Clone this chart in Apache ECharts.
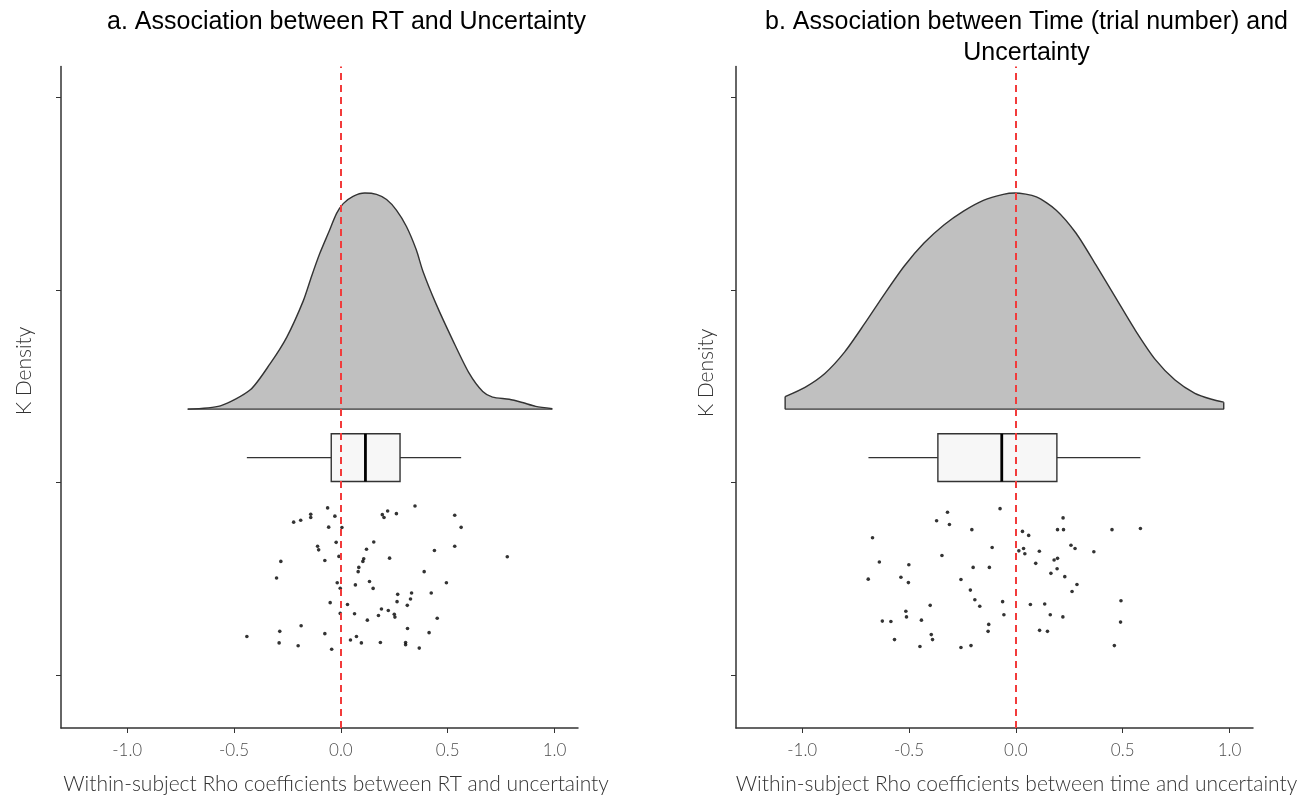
<!DOCTYPE html>
<html><head><meta charset="utf-8">
<script src="https://cdn.jsdelivr.net/npm/echarts@6/dist/echarts.min.js"></script>
<style>html,body{margin:0;padding:0;background:#fff}#c{width:1309px;height:800px}</style>
</head><body><div id="c"></div><script>
// ---------- data ----------
const panelTitles = ['a. Association between RT and Uncertainty', 'b. Association between Time (trial number) and\nUncertainty'];
const xAxisNames = ['Within-subject Rho coefficients between RT and uncertainty', 'Within-subject Rho coefficients between time and uncertainty'];
const yAxisName = 'K Density';
const xTickValues = [-1.0, -0.5, 0.0, 0.5, 1.0];
const yTickValues = [0, 1, 2, 3];

// kernel density (x, height above the violin baseline)
const rtDensX = [-0.717,-0.564,-0.424,-0.331,-0.253,-0.176,-0.137,-0.098,-0.059,-0.020,0.011,0.057,0.112,0.167,0.214,0.260,0.307,0.353,0.384,0.446,0.524,0.601,0.664,0.710,0.788,0.850,0.912,0.990];
const rtDensH = [0,0.017,0.100,0.236,0.374,0.562,0.690,0.810,0.913,1.016,1.067,1.105,1.122,1.115,1.088,1.033,0.948,0.827,0.716,0.545,0.357,0.185,0.091,0.062,0.051,0.034,0.014,0.002];
const timeDensX = [-1.080,-0.987,-0.894,-0.801,-0.709,-0.616,-0.523,-0.430,-0.337,-0.245,-0.152,-0.059,-0.005,0.096,0.189,0.282,0.374,0.467,0.560,0.653,0.745,0.838,0.916,0.973];
const timeDensH = [0.065,0.113,0.185,0.297,0.442,0.596,0.742,0.862,0.956,1.028,1.084,1.115,1.122,1.102,1.033,0.913,0.750,0.579,0.408,0.257,0.151,0.082,0.051,0.036];

// boxplot [lower whisker, Q1, median, Q3, upper whisker]
const rtBox = [-0.44, -0.045, 0.115, 0.277, 0.563];
const timeBox = [-0.69, -0.365, -0.066, 0.192, 0.583];

// individual rho values and their jitter
const rtRho = [-0.062,-0.141,-0.141,-0.188,-0.221,-0.028,-0.057,0.005,0.194,0.202,0.219,0.260,0.347,0.533,0.563,
  -0.109,-0.104,-0.022,0.154,0.120,0.438,0.533,-0.281,-0.075,-0.009,0.107,0.103,0.228,0.084,0.081,-0.301,0.390,
  -0.017,0.068,0.134,0.151,-0.003,0.494,0.266,0.331,0.423,0.263,0.326,0.311,-0.050,0.031,0.190,0.222,0.250,0.253,
  0.176,0.064,-0.003,0.124,0.451,0.312,0.413,-0.186,-0.286,-0.440,-0.075,0.073,0.045,0.096,0.185,0.303,0.303,
  -0.289,-0.200,-0.043,0.367,0.779];
const rtJitter = [0.868,0.835,0.818,0.804,0.794,0.825,0.768,0.766,0.833,0.818,0.852,0.838,0.878,0.830,0.767,
  0.669,0.650,0.689,0.691,0.653,0.647,0.669,0.590,0.595,0.616,0.604,0.590,0.607,0.559,0.537,0.504,0.537,
  0.479,0.468,0.486,0.450,0.451,0.479,0.419,0.426,0.426,0.381,0.395,0.362,0.376,0.366,0.343,0.335,0.316,0.301,
  0.309,0.318,0.320,0.285,0.295,0.242,0.220,0.256,0.227,0.200,0.215,0.200,0.182,0.167,0.169,0.169,0.157,
  0.167,0.152,0.134,0.140,0.614];
const timeRho = [-0.074,-0.320,-0.371,-0.311,-0.206,-0.671,0.031,0.060,0.221,0.195,0.223,0.450,0.583,
  -0.111,0.014,0.036,0.042,0.110,0.258,0.277,0.365,-0.346,-0.639,-0.501,0.093,0.179,0.195,-0.200,-0.124,0.193,
  0.164,0.229,-0.691,-0.538,-0.503,-0.257,0.286,0.263,-0.213,0.492,-0.192,-0.169,-0.062,0.068,0.135,-0.401,
  -0.515,-0.512,-0.625,-0.585,-0.442,-0.056,0.161,0.220,0.490,-0.127,-0.130,0.111,0.148,-0.396,-0.390,-0.568,
  -0.449,-0.257,-0.210,0.461];
const timeJitter = [0.864,0.845,0.801,0.782,0.755,0.713,0.746,0.725,0.816,0.755,0.755,0.755,0.761,
  0.662,0.645,0.657,0.630,0.643,0.674,0.657,0.640,0.621,0.587,0.573,0.580,0.597,0.606,0.559,0.559,0.552,
  0.528,0.511,0.498,0.508,0.480,0.496,0.470,0.434,0.441,0.386,0.391,0.357,0.381,0.366,0.369,0.362,
  0.331,0.302,0.280,0.278,0.285,0.313,0.313,0.302,0.275,0.263,0.227,0.232,0.227,0.210,0.184,0.184,
  0.148,0.143,0.153,0.153];

// ---------- layout ----------
const DENS_BASE = 1.381, BOX_Y = 1.129, BOX_HALF = 0.124;
const X_MIN = -1.31, X_MAX = 1.11, Y_MIN = -0.275, Y_MAX = 3.16;
const grids = [{left: 61, top: 66.5, width: 517, height: 668.5}, {left: 736, top: 66.5, width: 517, height: 668.5}];
const namePadding = [[0, 0, 0, 33], [0, 0, 0, 44]];
const LIGHT = "'Lato','Open Sans','Liberation Sans',sans-serif";
const TITLEFONT = "'Liberation Sans',Arial,sans-serif";
const INK = '#333333';

function densitySeries(i, xs, hs) {
  return [{
    type: 'line', xAxisIndex: i, yAxisIndex: i, smooth: 0.25, symbol: 'none', silent: true, z: 2,
    data: xs.map((x, k) => [x, DENS_BASE + hs[k]]),
    lineStyle: {color: INK, width: 1.4},
    areaStyle: {color: '#c0c0c0', opacity: 1, origin: DENS_BASE}
  }, {
    type: 'line', xAxisIndex: i, yAxisIndex: i, symbol: 'none', silent: true, z: 3,
    data: [[xs[0], DENS_BASE + hs[0]], [xs[0], DENS_BASE], [xs[xs.length - 1], DENS_BASE], [xs[xs.length - 1], DENS_BASE + hs[hs.length - 1]]],
    lineStyle: {color: INK, width: 1.4}
  }];
}
function boxSeries(i, b) {
  return {
    type: 'custom', xAxisIndex: i, yAxisIndex: i, silent: true, z: 4, data: [b],
    renderItem: (params, api) => {
      const px = v => api.coord([v, BOX_Y])[0];
      const yC = api.coord([0, BOX_Y])[1], yT = api.coord([0, BOX_Y + BOX_HALF])[1], yB = api.coord([0, BOX_Y - BOX_HALF])[1];
      const [mn, q1, md, q3, mx] = b;
      const ln = {stroke: INK, lineWidth: 1.3};
      return {type: 'group', children: [
        {type: 'line', shape: {x1: px(mn), y1: yC, x2: px(q1), y2: yC}, style: ln},
        {type: 'line', shape: {x1: px(q3), y1: yC, x2: px(mx), y2: yC}, style: ln},
        {type: 'rect', shape: {x: px(q1), y: yT, width: px(q3) - px(q1), height: yB - yT}, style: {fill: '#f7f7f7', stroke: INK, lineWidth: 1.4}},
        {type: 'line', shape: {x1: px(md), y1: yT, x2: px(md), y2: yB}, style: {stroke: '#000', lineWidth: 2.8}}
      ]};
    }
  };
}
function pointSeries(i, xs, ys) {
  return {
    type: 'scatter', xAxisIndex: i, yAxisIndex: i, symbolSize: 3.6, z: 5, silent: true,
    itemStyle: {color: '#000'},
    data: xs.map((x, k) => [x, ys[k]]),
    markLine: {
      silent: true, symbol: ['none', 'none'], label: {show: false}, z: 10,
      lineStyle: {color: '#f23b3b', type: [7, 5], width: 2},
      data: [{xAxis: 0}]
    }
  };
}

const xAxes = [0, 1].map(i => ({
  gridIndex: i, type: 'value', min: X_MIN, max: X_MAX,
  name: xAxisNames[i], nameLocation: 'middle', nameGap: 46,
  nameTextStyle: {fontFamily: LIGHT, fontWeight: 300, fontSize: 21, color: INK, padding: namePadding[i]},
  splitLine: {show: false},
  axisLine: {onZero: false, lineStyle: {color: INK, width: 1.5}},
  axisTick: {customValues: xTickValues, length: 5, lineStyle: {color: INK, width: 1}},
  axisLabel: {customValues: xTickValues, margin: 14, fontFamily: LIGHT, fontWeight: 300, fontSize: 17, color: '#4d4d4d',
    formatter: v => v.toFixed(1)}
}));
const yAxes = [0, 1].map(i => ({
  gridIndex: i, type: 'value', min: Y_MIN, max: Y_MAX,
  splitLine: {show: false},
  axisLine: {onZero: false, lineStyle: {color: INK, width: 1.5}},
  axisTick: {customValues: yTickValues, length: 5, lineStyle: {color: INK, width: 1}},
  axisLabel: {show: false}
}));

const chart = echarts.init(document.getElementById('c'), null, {renderer: 'canvas'});
chart.setOption({
  animation: false,
  backgroundColor: '#fff',
  title: [
    {text: panelTitles[0], left: 346.5, top: 9.5, padding: 0, textAlign: 'center',
      textStyle: {fontFamily: TITLEFONT, fontWeight: 'normal', fontSize: 25, color: '#000', lineHeight: 25}},
    {text: panelTitles[1], left: 1026.5, top: 6.5, padding: 0, textAlign: 'center',
      textStyle: {fontFamily: TITLEFONT, fontWeight: 'normal', fontSize: 25, color: '#000', lineHeight: 31}}
  ],
  graphic: [
    {type: 'text', x: 24, y: 371, rotation: Math.PI / 2,
      style: {text: yAxisName, fontFamily: LIGHT, fontWeight: 300, fontSize: 21, fill: INK, align: 'center', verticalAlign: 'middle'}},
    {type: 'text', x: 706, y: 373, rotation: Math.PI / 2,
      style: {text: yAxisName, fontFamily: LIGHT, fontWeight: 300, fontSize: 21, fill: INK, align: 'center', verticalAlign: 'middle'}}
  ],
  grid: grids,
  xAxis: xAxes,
  yAxis: yAxes,
  series: [
    ...densitySeries(0, rtDensX, rtDensH),
    boxSeries(0, rtBox),
    pointSeries(0, rtRho, rtJitter),
    ...densitySeries(1, timeDensX, timeDensH),
    boxSeries(1, timeBox),
    pointSeries(1, timeRho, timeJitter)
  ]
});
</script></body></html>
